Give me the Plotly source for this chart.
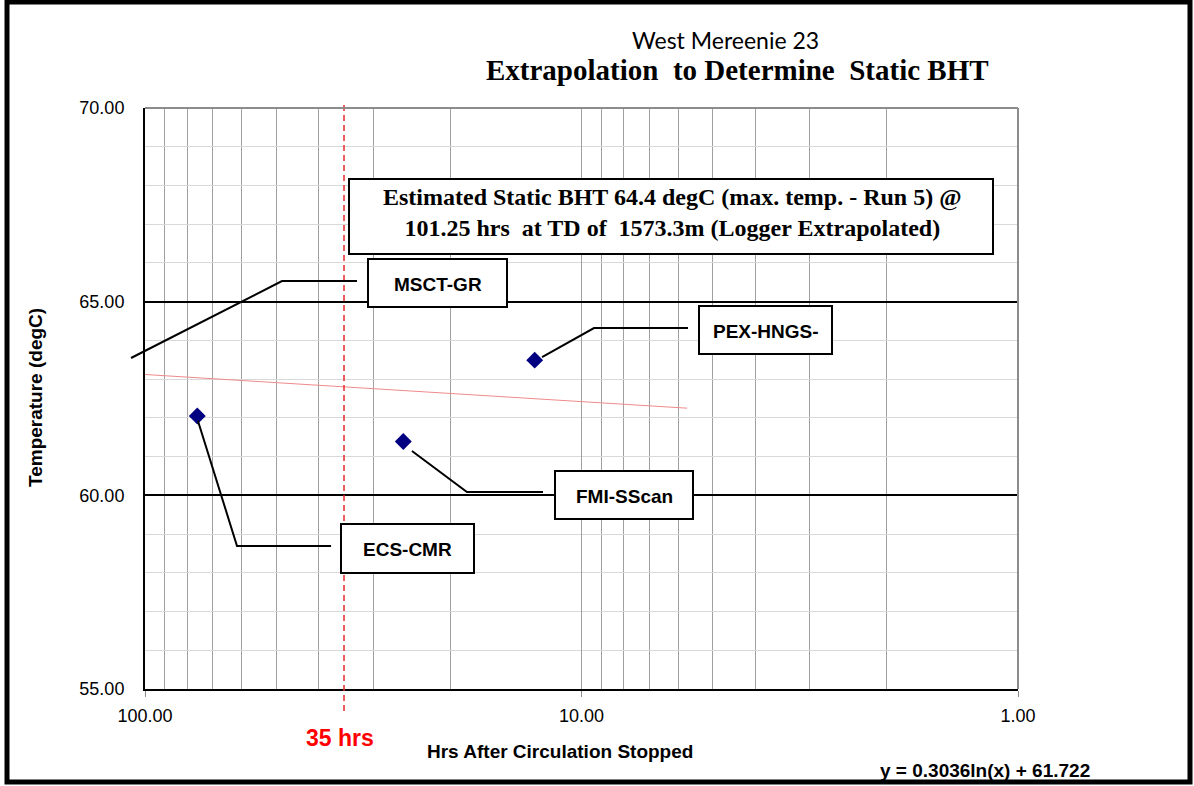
import plotly.graph_objects as go

# measured BHT points (hrs after circulation stopped, temperature degC)
tools = ["ECS-CMR", "FMI-SScan", "PEX-HNGS-"]
hrs = [75.9, 25.6, 12.8]
temps = [62.05, 61.39, 63.49]

# log trendline y = 0.3036ln(x) + 61.722, read at its two ends
trend_hrs = [100.0, 5.73]
trend_temps = [63.12, 62.25]

cutoff_hrs = 35

x_ticks = [100, 10, 1]
x_ticklabels = ["100.00", "10.00", "1.00"]
x_minor = [90, 80, 70, 60, 50, 40, 30, 20, 9, 8, 7, 6, 5, 4, 3, 2]
y_ticks = [55, 60, 65, 70]
y_ticklabels = ["55.00", "60.00", "65.00", "70.00"]
y_minor = [56, 57, 58, 59, 61, 62, 63, 64, 66, 67, 68, 69]

W, H = 1194, 786
L, R, T, B = 145, 1018, 108, 689
SANS = "Liberation Sans, Arial"
SERIF = "Liberation Serif, Times New Roman"


def px(x, y):
    # page pixel -> paper coords
    return (x - L) / (R - L), (B - y) / (B - T)


def path(points):
    s = ""
    for i, (x, y) in enumerate(points):
        a, b = px(x, y)
        s += ("M" if i == 0 else "L") + f"{a:.4f},{b:.4f} "
    return s.strip()


fig = go.Figure()

fig.add_trace(go.Scatter(x=trend_hrs, y=trend_temps, mode="lines",
                         line=dict(color="#f08a8a", width=1), hoverinfo="skip"))
fig.add_trace(go.Scatter(x=hrs, y=temps, mode="markers", text=tools,
                         marker=dict(symbol="diamond", size=13, color="#000080")))

shapes = []
# dashed 35 hrs line
y0 = px(0, 711)[1]
y1 = px(0, 105)[1]
shapes.append(dict(type="line", xref="x", yref="paper", x0=cutoff_hrs, x1=cutoff_hrs,
                   y0=y0, y1=y1, line=dict(color="#e8282a", width=1.5, dash="6px,4px"),
                   layer="above"))
# top / right plot border (grey)
for a, b in [((L, T), (R, T)), ((R, T), (R, B))]:
    xa, ya = px(*a)
    xb, yb = px(*b)
    shapes.append(dict(type="line", xref="paper", yref="paper", x0=xa, y0=ya, x1=xb, y1=yb,
                       line=dict(color="#8c8c8c", width=2), layer="above"))

# leader lines
leaders = [
    [(131, 358), (282, 281), (357, 281)],
    [(198, 421), (237, 546), (331, 546)],
    [(412, 451), (467, 492), (543, 492)],
    [(542, 357), (594, 328), (688, 328)],
]
for pts in leaders:
    shapes.append(dict(type="path", xref="paper", yref="paper", path=path(pts),
                       line=dict(color="black", width=2), layer="above"))

annotations = []


def label(text, x, y, fam, size, color="black", angle=0):
    cx, cy = px(x, y)
    annotations.append(dict(text=text, x=cx, y=cy, xref="paper", yref="paper",
                            xanchor="center", yanchor="middle", showarrow=False,
                            textangle=angle, align="center",
                            font=dict(family=fam, size=size, color=color)))


# callout boxes
boxes = [
    ("MSCT-GR", 368, 259, 507, 307),
    ("ECS-CMR", 341, 524, 474, 573),
    ("FMI-SScan", 555, 471, 693, 519),
    ("PEX-HNGS-", 699, 306, 832, 354),
]
for name, xa, ya, xb, yb in boxes:
    a0, b0 = px(xa, yb)
    a1, b1 = px(xb, ya)
    shapes.append(dict(type="rect", xref="paper", yref="paper", x0=a0, y0=b0, x1=a1, y1=b1,
                       fillcolor="white", line=dict(color="black", width=2), layer="above"))
    label(f"<b>{name}</b>", (xa + xb) / 2, (ya + yb) / 2 + 1, SANS, 19)

# main note box
a0, b0 = px(349, 254)
a1, b1 = px(993, 179)
shapes.append(dict(type="rect", xref="paper", yref="paper", x0=a0, y0=b0, x1=a1, y1=b1,
                   fillcolor="white", line=dict(color="black", width=2), layer="above"))
label("<b>Estimated Static BHT 64.4 degC (max. temp. - Run 5) @<br>"
      "101.25 hrs\u00a0 at TD of\u00a0 1573.3m (Logger Extrapolated)</b>",
      672, 212, SERIF, 24)

# outer frame
a0, b0 = px(7, 782)
a1, b1 = px(1190, 2)
shapes.append(dict(type="rect", xref="paper", yref="paper", x0=a0, y0=b0, x1=a1, y1=b1,
                   line=dict(color="black", width=5), layer="above"))

# titles and free text
label("West Mereenie 23", 725, 40, "Lato", 23)
label("<b>Extrapolation\u00a0 to Determine\u00a0 Static BHT</b>", 737, 70, SERIF, 29)
label("<b>Temperature (degC)</b>", 35, 398, SANS, 19, angle=-90)
label("<b>Hrs After Circulation Stopped</b>", 560, 751, SANS, 19)
label("<b>35 hrs</b>", 340, 738, SANS, 23, color="#ff0000")
label("<b>y = 0.3036ln(x) + 61.722</b>", 985, 770, SANS, 19)

fig.update_layout(
    width=W, height=H, autosize=False,
    margin=dict(l=L, r=W - R, t=T, b=H - B),
    paper_bgcolor="white", plot_bgcolor="white",
    showlegend=False,
    shapes=shapes, annotations=annotations,
    font=dict(family=SANS, size=18, color="black"),
)

fig.update_xaxes(
    type="log", range=[2, 0],
    tickmode="array", tickvals=x_ticks, ticktext=x_ticklabels,
    ticks="outside", ticklen=6, tickcolor="#8c8c8c", ticklabelstandoff=3,
    tickfont=dict(family=SANS, size=18, color="black"),
    showgrid=True, gridcolor="#a0a0a0", gridwidth=1,
    minor=dict(tickmode="array", tickvals=x_minor, showgrid=True,
               gridcolor="#a0a0a0", gridwidth=1, ticks=""),
    showline=True, linecolor="black", linewidth=2, zeroline=False,
)
fig.update_yaxes(
    range=[55, 70],
    tickmode="array", tickvals=y_ticks, ticktext=y_ticklabels,
    ticks="", ticklabelstandoff=15,
    tickfont=dict(family=SANS, size=18, color="black"),
    showgrid=True, gridcolor="black", gridwidth=2,
    minor=dict(tickmode="array", tickvals=y_minor, showgrid=True,
               gridcolor="#d9d9d9", gridwidth=1, ticks=""),
    showline=True, linecolor="black", linewidth=2, zeroline=False,
)

fig.write_html("out.html", config={"displayModeBar": False},
               post_script="document.body.style.margin='0';")
